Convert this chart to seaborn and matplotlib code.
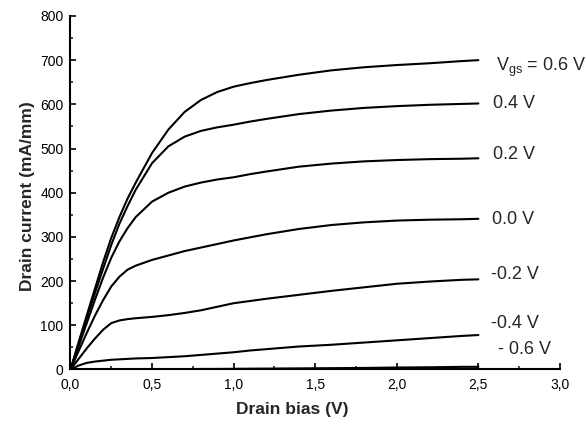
import numpy as np
import pandas as pd
import matplotlib
matplotlib.use("Agg")
import matplotlib.pyplot as plt
from matplotlib.ticker import MultipleLocator, FuncFormatter
import seaborn as sns

# ---- data ----
drain_bias = [0, 0.05, 0.1, 0.15, 0.2, 0.25, 0.3, 0.35, 0.4, 0.5, 0.6, 0.7, 0.8,
              0.9, 1.0, 1.1, 1.2, 1.4, 1.6, 1.8, 2.0, 2.2, 2.4, 2.5]
id_p06 = [0, 62, 123, 183, 243, 298, 345, 387, 423, 490, 543, 583, 610,
          628, 640, 648, 655, 667, 677, 684, 689, 693, 698, 700]
id_p04 = [0, 58, 116, 173, 228, 282, 330, 370, 407, 467, 505, 527, 540,
          548, 554, 561, 567, 578, 586, 592, 596, 599, 601, 602]
id_p02 = [0, 53, 105, 158, 208, 253, 290, 320, 345, 380, 400, 414, 423,
          430, 435, 442, 448, 459, 466, 471, 474, 476, 477, 478]
id_p00 = [0, 42, 83, 122, 157, 188, 210, 226, 235, 248, 258, 268, 276,
          284, 292, 299, 306, 318, 327, 333, 337, 339, 340, 341]
id_m02 = [0, 24, 48, 70, 90, 105, 111, 114, 116, 119, 123, 128, 134,
          142, 150, 155, 160, 169, 178, 186, 194, 199, 203, 204]
id_m04 = [0, 9, 15, 18, 20, 22, 23, 24, 25, 26, 28, 30, 33,
          36, 39, 43, 46, 52, 56, 61, 66, 71, 76, 78]
id_m06 = [0, 0.5, 1, 1, 1, 1, 1, 1, 1, 1, 1, 1, 1.2,
          1.3, 1.5, 1.8, 2, 2.5, 3, 3.5, 4.5, 5, 6, 6]

gate_labels = [r"V$_{\mathregular{gs}}$ = 0.6 V", "0.4 V", "0.2 V", "0.0 V",
               "-0.2 V", "-0.4 V", "- 0.6 V"]
label_x = [2.61, 2.59, 2.59, 2.585, 2.575, 2.58, 2.62]
label_y = [684, 602, 487, 340, 216, 105, 46]

x_ticks = [0.0, 0.5, 1.0, 1.5, 2.0, 2.5, 3.0]
y_ticks = [0, 100, 200, 300, 400, 500, 600, 700, 800]

series = [id_p06, id_p04, id_p02, id_p00, id_m02, id_m04, id_m06]
names = ["0.6", "0.4", "0.2", "0.0", "-0.2", "-0.4", "-0.6"]
frames = [pd.DataFrame({"Vds": drain_bias, "Id": s, "Vgs": n}) for s, n in zip(series, names)]
df = pd.concat(frames, ignore_index=True)

# ---- style ----
sns.set_style("ticks")
plt.rcParams["font.family"] = ["Liberation Sans", "DejaVu Sans"]
plt.rcParams["mathtext.fontset"] = "custom"
plt.rcParams["mathtext.rm"] = "Liberation Sans"

fig = plt.figure(figsize=(5.86, 4.25), dpi=100)
ax = fig.add_axes([0.1203, 0.1306, 0.9556 - 0.1203, 0.9624 - 0.1306])

sns.lineplot(data=df, x="Vds", y="Id", hue="Vgs", palette=["black"] * 7,
             legend=False, sort=False, estimator=None, linewidth=1.5, ax=ax)

ax.set_xlim(0, 3.0)
ax.set_ylim(0, 800)
ax.set_xticks(x_ticks)
ax.set_yticks(y_ticks)
ax.xaxis.set_minor_locator(MultipleLocator(0.25))
ax.yaxis.set_minor_locator(MultipleLocator(50))
ax.xaxis.set_major_formatter(FuncFormatter(lambda v, p: f"{v:.1f}".replace(".", ",")))
ax.yaxis.set_major_formatter(FuncFormatter(lambda v, p: f"{int(v)}"))
ax.tick_params(which="major", direction="in", length=4.5, width=1.2, labelsize=10,
               colors="black")
ax.tick_params(which="minor", direction="in", length=2.5, width=1.2)
ax.tick_params(axis="x", pad=6)
ax.tick_params(axis="y", pad=5)
for side in ["top", "right"]:
    ax.spines[side].set_visible(False)
for side in ["left", "bottom"]:
    ax.spines[side].set_linewidth(1.5)
    ax.spines[side].set_color("black")

ax.set_xlabel("Drain bias (V)", fontsize=12.5, fontweight="bold")
ax.set_ylabel("Drain current (mA/mm)", fontsize=12.5, fontweight="bold")
ax.xaxis.set_label_coords(0.4525, -0.092)
ax.yaxis.set_label_coords(-0.072, 0.49)

for txt, lx, ly in zip(gate_labels, label_x, label_y):
    ax.text(lx, ly, txt, fontsize=13, ha="left", va="center", clip_on=False)

fig.savefig("out.png", dpi=100)
